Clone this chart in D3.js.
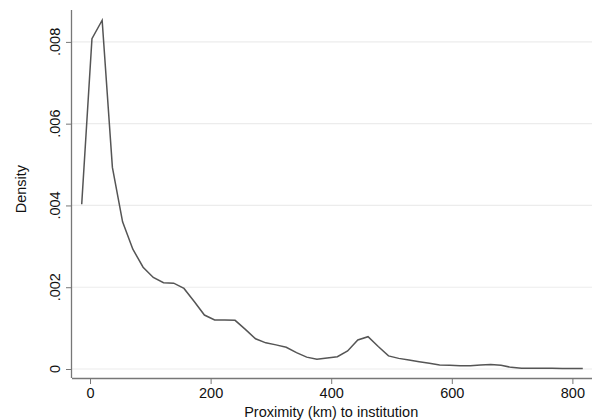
<!DOCTYPE html>
<html>
<head>
<meta charset="utf-8">
<script src="https://cdn.jsdelivr.net/npm/d3@7"></script>
<style>
  body { margin: 0; background: #fff; }
  text { font-family: "Liberation Sans", Arial, sans-serif; fill: #111; }
</style>
</head>
<body>
<div id="chart"></div>
<script>
// kernel density estimate, 50 evaluation points
const proximity = [-13.8, 3.2, 20.1, 37.1, 54.0, 71.0, 88.0, 104.9, 121.9, 138.8,
  155.8, 172.8, 189.7, 206.7, 223.6, 240.6, 257.6, 274.5, 291.5, 308.4,
  325.4, 342.4, 359.3, 376.3, 393.2, 410.2, 427.2, 444.1, 461.1, 478.0,
  495.0, 512.0, 528.9, 545.9, 562.8, 579.8, 596.8, 613.7, 630.7, 647.6,
  664.6, 681.6, 698.5, 715.5, 732.4, 749.4, 766.4, 783.3, 800.3, 817.2];
const density = [.00403, .00808, .00853, .00493, .00360, .00293, .00249, .00224, .00211, .00210,
  .00197, .00165, .00132, .00120, .00120, .00119, .00097, .00074, .00064, .00059,
  .00053, .00040, .00029, .00024, .00027, .00030, .00044, .00071, .00079, .00055,
  .00032, .00026, .00022, .00018, .00014, .00010, .00009, .00008, .00008, .00010,
  .00011, .00009, .00004, .00002, .00002, .00002, .00002, .000015, .00001, .00001];
const xTicks = [0, 200, 400, 600, 800];
const yTicks = [0, .002, .004, .006, .008];

const data = proximity.map((p, i) => ({x: p, y: density[i]}));

const W = 599, H = 420;
const margin = {top: 10, right: 7, bottom: 42, left: 72},
  width = W - margin.left - margin.right,
  height = H - margin.top - margin.bottom;

const svg = d3.select("#chart")
  .append("svg")
  .attr("width", W)
  .attr("height", H)
  .append("g")
  .attr("transform", `translate(${margin.left},${margin.top})`);

const x = d3.scaleLinear()
  .domain([-29.9, 832.5])
  .range([0, width]);

const y = d3.scaleLinear()
  .domain([-0.00022, 0.00878])
  .range([height, 0]);

// grid lines
svg.selectAll("grid")
  .data(yTicks)
  .join("line")
    .attr("x1", 0)
    .attr("x2", width)
    .attr("y1", d => y(d))
    .attr("y2", d => y(d))
    .attr("stroke", "#ececec")
    .attr("stroke-width", 1.2);

// X axis
const xAxis = svg.append("g")
  .attr("transform", `translate(0, ${height})`)
  .call(d3.axisBottom(x).tickValues(xTicks).tickSize(6).tickPadding(4).tickFormat(d3.format("d")));
xAxis.select(".domain").attr("stroke", "#777").attr("stroke-width", 1.3).attr("d", `M0,0.5H${width}`);
xAxis.selectAll(".tick line").attr("stroke", "#777");
xAxis.selectAll("text").style("font-size", "14.5px");

// Y axis (labels drawn rotated below)
const yAxis = svg.append("g")
  .call(d3.axisLeft(y).tickValues(yTicks).tickSize(6).tickFormat(""));
yAxis.select(".domain").attr("stroke", "#777").attr("stroke-width", 1.3).attr("d", `M-0.5,${height}V0`);
yAxis.selectAll(".tick line").attr("stroke", "#777");

svg.selectAll("ylab")
  .data(yTicks)
  .join("text")
    .text(d => d === 0 ? "0" : d3.format(".3f")(d).replace(/^0/, ""))
    .attr("transform", d => `translate(-12, ${y(d)}) rotate(-90)`)
    .attr("text-anchor", "middle")
    .style("font-size", "14.5px");

// density line
svg.append("path")
  .datum(data)
  .attr("fill", "none")
  .attr("stroke", "#555")
  .attr("stroke-width", 1.5)
  .attr("d", d3.line().x(d => x(d.x)).y(d => y(d.y)));

// axis titles
svg.append("text")
  .text("Proximity (km) to institution")
  .attr("x", x(400))
  .attr("y", height + 39)
  .attr("text-anchor", "middle")
  .style("font-size", "14.5px");

svg.append("text")
  .text("Density")
  .attr("transform", `translate(-46, ${y(0.0044)}) rotate(-90)`)
  .attr("text-anchor", "middle")
  .style("font-size", "14.5px");
</script>
</body>
</html>
